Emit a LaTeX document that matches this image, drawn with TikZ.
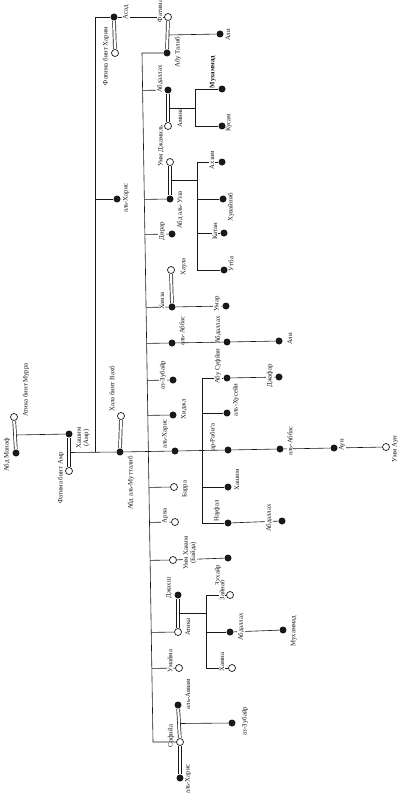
\documentclass[tikz,border=0pt]{standalone}
\usepackage{fontspec}
\setmainfont{Liberation Serif}
\usetikzlibrary{calc}
\definecolor{ink}{gray}{0.1}

\begin{document}
\begin{tikzpicture}[
  x=1pt, y=-1pt,
  font=\fontsize{6.8}{7.4}\selectfont,
  male/.style={circle, fill=ink, inner sep=0pt, minimum size=7pt},
  female/.style={circle, draw=ink, fill=white, line width=0.7pt, inner sep=0pt, minimum size=7pt},
  lbl/.style={rotate=90, text=ink, align=center, inner sep=0.6pt},
  lblcut/.style={lbl, fill=white},
  link/.style={draw=ink, line width=0.6pt},
  bar/.style={draw=ink, line width=0.7pt, double=white, double distance=2.2pt}
]
\fill[white] (0,0) rectangle (405,800);
\useasboundingbox (0,0) rectangle (405,800);

% people (filled = men, open = women)
\node[male]   (abdmanaf)  at (16,453)  {};
\node[female] (atikam)    at (14,417)  {};
\node[male]   (hashim)    at (69,434)  {};
\node[female] (fatamr)    at (69,471)  {};
\node[male]   (abdm)      at (120,452) {};
\node[female] (hala)      at (121,416) {};
\node[male]   (asad)      at (114,17)  {};
\node[female] (fatharim)  at (115,53)  {};
\node[male]   (harisH)    at (117,199) {};

\node[female] (fatima)    at (168,17)  {};
\node[male]   (abutalib)  at (167,53)  {};
\node[male]   (ali1)      at (220,34)  {};
\node[male]   (abdallah1) at (168,90)  {};
\node[female] (amina)     at (168,126) {};
\node[male]   (muhammad1) at (222,89)  {};
\node[male]   (kusam)     at (222,126) {};
\node[female] (ummjamil)  at (170,162) {};
\node[male]   (abduzza)   at (170,199) {};
\node[male]   (akhzam)    at (222,162) {};
\node[male]   (khuvaynib) at (223,199) {};
\node[male]   (katan)     at (224,233) {};
\node[male]   (utba)      at (224,270) {};
\node[male]   (dirar)     at (172,234) {};
\node[female] (khaula)    at (171,270) {};
\node[male]   (hamza)     at (172,307) {};
\node[male]   (umar)      at (226,306) {};
\node[male]   (abbas1)    at (172,343) {};
\node[male]   (abdallah2) at (227,342) {};
\node[male]   (ali2)      at (279,341) {};
\node[male]   (zubayr1)   at (173,380) {};
\node[male]   (abusufyan) at (227,378) {};
\node[male]   (jafar)     at (279,377) {};
\node[male]   (hijl)      at (173,415) {};
\node[male]   (husayn)    at (227,413) {};
\node[male]   (harisA)    at (175,451) {};
\node[male]   (rabia)     at (228,450) {};
\node[male]   (abbas2)    at (280,449) {};
\node[male]   (aun)       at (334,448) {};
\node[female] (ummaun)    at (386,447) {};
\node[male]   (hashim2)   at (228,487) {};
\node[male]   (naufal)    at (228,523) {};
\node[male]   (abdallah3) at (282,521) {};
\node[female] (barra)     at (174,487) {};
\node[female] (arva)      at (175,522) {};
\node[female] (ummhakim)  at (173,560) {};
\node[male]   (zuhayr)    at (228,558) {};
\node[male]   (jahsh)     at (178,595) {};
\node[female] (atika)     at (178,632) {};
\node[female] (zaynab)    at (230,595) {};
\node[male]   (abdallah4) at (230,632) {};
\node[female] (hamna)     at (232,668) {};
\node[male]   (muhammad2) at (283,630) {};
\node[female] (umayma)    at (179,668) {};
\node[male]   (awwam)     at (178,705) {};
\node[female] (safiyya)   at (180,742) {};
\node[male]   (harisS)    at (180,778) {};
\node[male]   (zubayr2)   at (232,723) {};

% bar middles and line corners
\coordinate (am-mid) at ($(atikam)!.5!(abdmanaf)$);
\coordinate (h-mid)  at ($(hashim)!.5!(fatamr)$);
\coordinate (t-mid)  at ($(fatima)!.5!(abutalib)$);
\coordinate (a-mid)  at ($(abdallah1)!.5!(amina)$);
\coordinate (u-mid)  at ($(ummjamil)!.5!(abduzza)$);
\coordinate (j-mid)  at ($(jahsh)!.5!(atika)$);
\coordinate (w-mid)  at ($(awwam)!.5!(safiyya)$);
\coordinate (hvt) at (95,17);
\coordinate (hvb) at (95,452);
\coordinate (cltop) at (142,53);
\coordinate (clbot) at (153,742);
\coordinate (k1t) at (195,89);
\coordinate (k1b) at (195,126);
\coordinate (k2t) at (197.5,162);
\coordinate (k2b) at (197.5,270);
\coordinate (k3t) at (202,378);
\coordinate (k3b) at (202,523);
\coordinate (k4t) at (206,595);
\coordinate (k4b) at (206,668);

% descent lines
\draw[link] (am-mid) -- (hashim);
\draw[link] (h-mid) -- (abdm);
\draw[link] (asad) -- (hvt) -- (hvb);
\draw[link] (harisH) -- (harisH -| hvt);
\draw[link] (asad) -- (fatima);
\draw[link] (t-mid) -- (ali1);
\draw[link] (abutalib) -- (cltop) -- (clbot) -- (safiyya);
\foreach \c in {abdallah1, abduzza, dirar, hamza, abbas1, zubayr1, hijl,
                barra, arva, ummhakim, atika, umayma}
  \draw[link] ($(cltop)!(\c)!(clbot)$) -- (\c);
\draw[link] (abdm) -- (harisA) -- (rabia) -- (abbas2) -- (aun) -- (ummaun);

\draw[link] (a-mid) -- (a-mid -| k1t);
\draw[link] (muhammad1) -- (k1t) -- (k1b) -- (kusam);
\draw[link] (u-mid) -- (u-mid -| k2t);
\draw[link] (akhzam) -- (k2t) -- (k2b) -- (utba);
\draw[link] (khuvaynib) -- (khuvaynib -| k2t);
\draw[link] (katan) -- (katan -| k2t);
\draw[link] (hamza) -- (umar);
\draw[link] (abbas1) -- (abdallah2) -- (ali2);
\draw[link] (abusufyan) -- (k3t) -- (k3b) -- (naufal);
\draw[link] (abusufyan) -- (jafar);
\draw[link] (husayn) -- (husayn -| k3t);
\draw[link] (hashim2) -- (hashim2 -| k3t);
\draw[link] (naufal) -- (abdallah3);
\draw[link] (ummhakim) -- (zuhayr);
\draw[link] (j-mid) -- (j-mid -| k4t);
\draw[link] (zaynab) -- (k4t) -- (k4b) -- (hamna);
\draw[link] (abdallah4) -- (abdallah4 -| k4t);
\draw[link] (abdallah4) -- (muhammad2);
\draw[link] (w-mid) -- (zubayr2);

% marriages
\foreach \a/\b in {atikam/abdmanaf, hashim/fatamr, hala/abdm, asad/fatharim,
                   fatima/abutalib, abdallah1/amina, ummjamil/abduzza, khaula/hamza,
                   jahsh/atika, awwam/safiyya, safiyya/harisS}
  \draw[bar] (\a) -- (\b);

% names
\node[lbl]    (t-abdmanaf)  at (7,455)   {Абд Манаф};
\node[lbl]    (t-atikam)    at (26,390)  {Атика бинт Мурра};
\node[lbl]    (t-hashim)    at (83,438)  {Хашим\\(Амр)};
\node[lbl]    (t-fatamr)    at (61,478)  {Фатима бинт Амр};
\node[lbl]    (t-hala)      at (112,389) {Хала бинт Вахб};
\node[lbl]    (t-abdm)      at (131,483) {Абд аль-Мутталиб};
\node[lblcut] (t-asad)      at (126,12)  {Асад};
\node[lbl]    (t-fatharim)  at (106,56)  {Фатима бинт Харим};
\node[lbl]    (t-harisH)    at (126,198) {аль-Харис};

\node[lblcut] (t-fatima)    at (160,11)  {Фатима};
\node[lbl]    (t-abutalib)  at (178,52)  {Абу Талиб};
\node[lbl]    (t-ali1)      at (228,35)  {Али};
\node[lblcut] (t-abdallah1) at (160,79)  {Абдаллах};
\node[lbl]    (t-amina)     at (180,118) {Амина};
\node[lbl, font=\fontsize{6.8}{7.4}\selectfont\bfseries]
              (t-muhammad1) at (213,72)  {Мухаммад};
\node[lbl]    (t-kusam)     at (229,123) {Кусам};
\node[lbl]    (t-ummjamil)  at (161,146) {Умм Джамиль};
\node[lbl]    (t-abduzza)   at (180,210) {Абд аль-Узза};
\node[lblcut] (t-akhzam)    at (212,160) {Ахзам};
\node[lbl]    (t-khuvaynib) at (231,207) {Хувайниб};
\node[lblcut] (t-katan)     at (215,231) {Катан};
\node[lbl]    (t-utba)      at (231,264) {Утба};
\node[lblcut] (t-dirar)     at (162,231) {Дирар};
\node[lbl]    (t-khaula)    at (184,267) {Хаула};
\node[lblcut] (t-hamza)     at (162,301) {Хамза};
\node[lblcut] (t-umar)      at (217,304) {Умар};
\node[lbl]    (t-abbas1)    at (182,331) {аль-Аббас};
\node[lbl]    (t-abdallah2) at (218,330) {Абдаллах};
\node[lbl]    (t-ali2)      at (290,339) {Али};
\node[lblcut] (t-zubayr1)   at (163,375) {аз-Зубайр};
\node[lblcut] (t-abusufyan) at (218,366) {Абу Суфйан};
\node[lblcut] (t-jafar)     at (270,376) {Джафар};
\node[lbl]    (t-hijl)      at (184,409) {Хиджл};
\node[lbl]    (t-husayn)    at (236,400) {аль-Хусейн};
\node[lbl]    (t-harisA)    at (165,434) {аль-Харис};
\node[lbl]    (t-rabia)     at (213,437) {ар-Раби‘а};
\node[lblcut] (t-abbas2)    at (290,441) {аль-Аббас};
\node[lblcut] (t-aun)       at (342,445) {Аун};
\node[lbl]    (t-ummaun)    at (395,449) {Умм Аун};
\node[lbl]    (t-hashim2)   at (237,480) {Хашим};
\node[lbl]    (t-barra)     at (185,489) {Барра};
\node[lbl]    (t-naufal)    at (217,511) {Науфал};
\node[lblcut] (t-abdallah3) at (269,518) {Абдаллах};
\node[lblcut] (t-arva)      at (165,516) {Арва};
\node[lblcut] (t-ummhakim)  at (190,553) {Умм Хаким\\(Байда)};
\node[lbl]    (t-zuhayr)    at (218,575) {Зухайр};
\node[lbl]    (t-jahsh)     at (169,588) {Джахш};
\node[lbl]    (t-atika)     at (188,627) {Атика};
\node[lblcut] (t-zaynab)    at (222,590) {Зайнаб};
\node[lblcut] (t-abdallah4) at (241,627) {Абдаллах};
\node[lblcut] (t-hamna)     at (222,662) {Хамна};
\node[lbl]    (t-muhammad2) at (294,631) {Мухаммад};
\node[lblcut] (t-umayma)    at (170,661) {Умайма};
\node[lbl]    (t-awwam)     at (188,694) {аль-Аввам};
\node[lbl]    (t-safiyya)   at (171,736) {Сафийа};
\node[lbl]    (t-harisS)    at (188,779) {аль-Харис};
\node[lbl]    (t-zubayr2)   at (245,721) {аз-Зубайр};

\end{tikzpicture}
\end{document}
